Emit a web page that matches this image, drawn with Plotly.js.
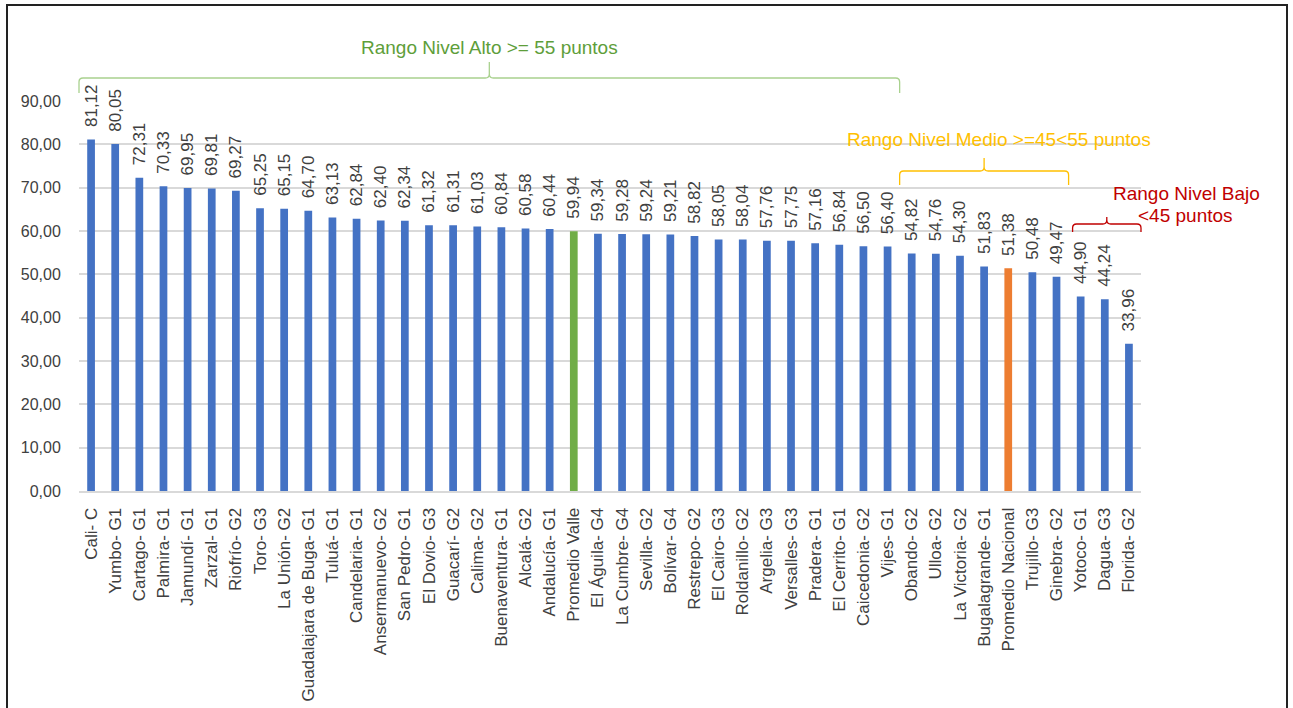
<!DOCTYPE html>
<html>
<head>
<meta charset="utf-8">
<script src="https://cdn.plot.ly/plotly-3.0.1.min.js"></script>
<style>
  html, body { margin: 0; padding: 0; background: #ffffff; }
  #chart { width: 1293px; height: 708px; }
</style>
</head>
<body>
<div id="chart"></div>
<script>
// ---- Data ----
const categories = [
  "Cali- C", "Yumbo- G1", "Cartago- G1", "Palmira- G1", "Jamundí- G1", "Zarzal- G1",
  "Riofrío- G2", "Toro- G3", "La Unión- G2", "Guadalajara de Buga- G1", "Tuluá- G1",
  "Candelaria- G1", "Ansermanuevo- G2", "San Pedro- G1", "El Dovio- G3", "Guacarí- G2",
  "Calima- G2", "Buenaventura- G1", "Alcalá- G2", "Andalucía- G1", "Promedio Valle",
  "El Águila- G4", "La Cumbre- G4", "Sevilla- G2", "Bolívar- G4", "Restrepo- G2",
  "El Cairo- G3", "Roldanillo- G2", "Argelia- G3", "Versalles- G3", "Pradera- G1",
  "El Cerrito- G1", "Caicedonia- G2", "Vijes- G1", "Obando- G2", "Ulloa- G2",
  "La Victoria- G2", "Bugalagrande- G1", "Promedio Nacional", "Trujillo- G3",
  "Ginebra- G2", "Yotoco- G1", "Dagua- G3", "Florida- G2"
];
const values = [
  81.12, 80.05, 72.31, 70.33, 69.95, 69.81,
  69.27, 65.25, 65.15, 64.70, 63.13,
  62.84, 62.40, 62.34, 61.32, 61.31,
  61.03, 60.84, 60.58, 60.44, 59.94,
  59.34, 59.28, 59.24, 59.21, 58.82,
  58.05, 58.04, 57.76, 57.75, 57.16,
  56.84, 56.50, 56.40, 54.82, 54.76,
  54.30, 51.83, 51.38, 50.48,
  49.47, 44.90, 44.24, 33.96
];
const yTickValues = [0, 10, 20, 30, 40, 50, 60, 70, 80, 90];
const rangeLabels = [
  { text: ["Rango Nivel Alto >= 55 puntos"], first: "Cali- C", last: "Vijes- G1" },
  { text: ["Rango Nivel Medio >=45<55 puntos"], first: "Obando- G2", last: "Ginebra- G2" },
  { text: ["Rango Nivel Bajo", "<45 puntos"], first: "Yotoco- G1", last: "Florida- G2" }
];

// ---- Style ----
const BLUE = "#4472C4", GREEN = "#70AD47", ORANGE = "#ED7D31";
const barColors = categories.map(c =>
  c === "Promedio Valle" ? GREEN : (c === "Promedio Nacional" ? ORANGE : BLUE));
const PAD = "\u00A0\u00A0";
const labels = values.map(v => PAD + v.toFixed(2).replace(".", ","));

const W = 1293, H = 708;
const M = { l: 79, r: 152, t: 101, b: 217 };
const PW = W - M.l - M.r, PH = H - M.t - M.b;
const N = categories.length;
const px = p => (p - M.l) / PW;
const py = p => (M.t + PH - p) / PH;
const catEdge = i => M.l + i * PW / N;   // pixel x of left edge of category slot i

function brace(x0, x1, xm, yLine, yEnd, yNotch, r) {
  const P = (x, y) => px(x).toFixed(5) + "," + py(y).toFixed(5);
  return "M " + P(x0, yEnd) + " L " + P(x0, yLine + r) +
    " Q " + P(x0, yLine) + " " + P(x0 + r, yLine) +
    " L " + P(xm - r, yLine) +
    " Q " + P(xm, yLine) + " " + P(xm, yLine - r) +
    " L " + P(xm, yNotch) +
    " M " + P(xm, yLine - r) +
    " Q " + P(xm, yLine) + " " + P(xm + r, yLine) +
    " L " + P(x1 - r, yLine) +
    " Q " + P(x1, yLine) + " " + P(x1, yLine + r) +
    " L " + P(x1, yEnd);
}

const braceStyle = [
  { line: "#A9D18E", text: "#5E9E3A", yLine: 78, yEnd: 93, yNotch: 62, tx: [null], ty: [47] },
  { line: "#FFC000", text: "#FFC000", yLine: 171, yEnd: 185, yNotch: 158, tx: [999], ty: [139] },
  { line: "#C00000", text: "#C00000", yLine: 224, yEnd: 232, yNotch: 217, tx: [1186, 1185], ty: [193, 215] }
];

const shapes = [];
const annotations = [];
rangeLabels.forEach((g, k) => {
  const s = braceStyle[k];
  const i0 = categories.indexOf(g.first), i1 = categories.indexOf(g.last);
  let x0 = catEdge(i0), x1 = catEdge(i1 + 1);
  if (k === 2) { x0 += 4; }
  const xm = (x0 + x1) / 2;
  shapes.push({
    type: "path", xref: "paper", yref: "paper",
    path: brace(x0, x1, xm, s.yLine, s.yEnd, s.yNotch, 4),
    line: { color: s.line, width: 1.3 }
  });
  g.text.forEach((t, j) => {
    annotations.push({
      xref: "paper", yref: "paper",
      x: px(s.tx[j] === null ? xm : s.tx[j]), y: py(s.ty[j]),
      xanchor: "center", yanchor: "middle",
      text: t.replace("<", "&lt;"), showarrow: false, align: "center",
      font: { family: "Liberation Sans, Arial, sans-serif", size: 19, color: s.text }
    });
  });
});

// outer frame
shapes.push({
  type: "rect", xref: "paper", yref: "paper",
  x0: px(7), x1: px(1287), y0: py(712), y1: py(5),
  line: { color: "#222222", width: 2 }, layer: "above"
});

const trace = {
  type: "bar",
  x: categories,
  y: values,
  marker: { color: barColors },
  width: 0.32,
  text: labels,
  textposition: "outside",
  textangle: -90,
  constraintext: "none",
  cliponaxis: false,
  textfont: { family: "Liberation Sans, Arial, sans-serif", size: 17, color: "#404040" },
  hoverinfo: "none"
};

const layout = {
  width: W, height: H,
  margin: M,
  paper_bgcolor: "#ffffff",
  plot_bgcolor: "#ffffff",
  separators: ",.",
  showlegend: false,
  font: { family: "Liberation Sans, Arial, sans-serif", size: 16, color: "#404040" },
  xaxis: {
    type: "category",
    tickangle: -90,
    tickfont: { size: 17, color: "#404040" },
    showgrid: false,
    showline: true,
    linecolor: "#D9D9D9",
    linewidth: 2,
    ticks: "outside",
    ticklen: 8,
    tickcolor: "rgba(0,0,0,0)",
    fixedrange: true
  },
  yaxis: {
    range: [0, 90],
    tickvals: yTickValues,
    tickformat: ".2f",
    tickfont: { size: 16, color: "#404040" },
    showgrid: true,
    gridcolor: "#D9D9D9",
    gridwidth: 2,
    zeroline: false,
    showline: false,
    ticks: "outside",
    ticklen: 14,
    tickcolor: "rgba(0,0,0,0)",
    fixedrange: true
  },
  shapes: shapes,
  annotations: annotations
};

Plotly.newPlot("chart", [trace], layout, { displayModeBar: false, staticPlot: true });
</script>
</body>
</html>
